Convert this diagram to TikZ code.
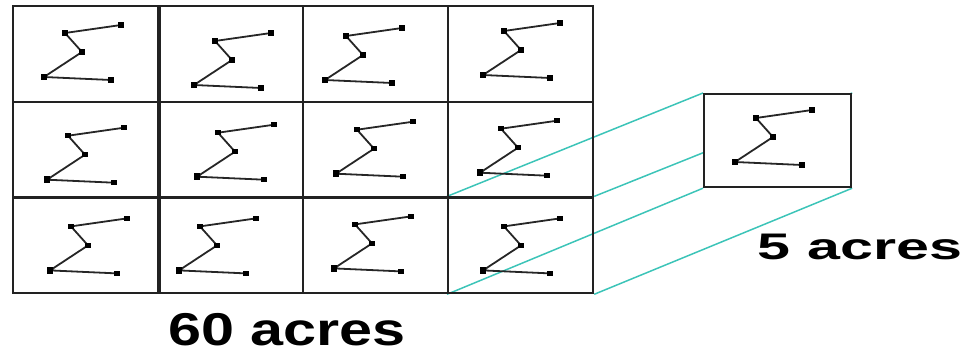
\documentclass[tikz,border=0pt]{standalone}
\usepackage{fontspec}
\setmainfont{Liberation Sans}
\usetikzlibrary{positioning,calc}
\definecolor{gridline}{HTML}{222222}
\definecolor{zoomline}{HTML}{3CC4B8}
\pgfdeclarelayer{background}
\pgfsetlayers{background,main}

\tikzset{
  sigma/.pic={
    \draw[trace] (77,-52) -- (21,-44) -- (38,-25) -- (0,0) -- (67,3);
    \foreach \p in {(77,-52),(21,-44),(38,-25),(67,3)}
      \fill[shift={\p}] (-2.7,-2.7) rectangle (2.7,2.7);
    \fill (-3.3,-3.3) rectangle (3.3,3.3);
  }
}

\begin{document}
\begin{tikzpicture}[x=1pt,y=-1pt,
  cell/.style={draw=gridline,line width=2.2pt,rectangle,inner sep=0pt,
    minimum width=145pt,minimum height=95.7pt,anchor=north west},
  trace/.style={line width=1.8pt,black!85},
  zoom/.style={zoomline,line width=1.5pt},
  label/.style={inner sep=0pt,text=black}]
  \useasboundingbox (0,0) rectangle (972,356);

  % 60 acre field, 3 x 4 plots
  \foreach \r in {1,2,3}
    \foreach \c in {1,...,4}
      \node[cell] (c\r\c) at ({12+(\c-1)*145},{5+(\r-1)*95.7}) {};
  \draw[gridline,line width=3.8pt] (c11.north east) -- (c31.south east);

  % plotted values in each plot
  \foreach \r/\c/\dx/\dy in {1/1/32/72, 1/2/37/80, 1/3/23/75, 1/4/36/70,
                             2/1/35/79, 2/2/40/76, 2/3/34/73, 2/4/33/72,
                             3/1/38/74, 3/2/22/74, 3/3/32/72, 3/4/36/74}
    \pic at ($(c\r\c.north west)+(\dx,\dy)$) {sigma};

  % single 5 acre plot
  \node[cell,fill=white,minimum width=147pt,minimum height=93pt] (plot) at (703,93) {};
  \pic at ($(plot.north west)+(32,69)$) {sigma};

  % zoom lines
  \begin{pgfonlayer}{background}
    \draw[zoom] (c34.north west) -- (plot.north west);
    \draw[zoom] (c34.north east) -- (plot.north east);
    \draw[zoom] (c34.south west) -- (plot.south west);
    \draw[zoom] (c34.south east) -- (plot.south east);
  \end{pgfonlayer}

  % Labels
  \node[label,font=\bfseries\fontsize{46}{46}\selectfont] (field) at (287,330) {\scalebox{1.29}[1]{60 acres}};
  \node[label,font=\bfseries\fontsize{37}{37}\selectfont] (size) at (860,247) {\scalebox{1.6}[1]{5 acres}};
\end{tikzpicture}
\end{document}
